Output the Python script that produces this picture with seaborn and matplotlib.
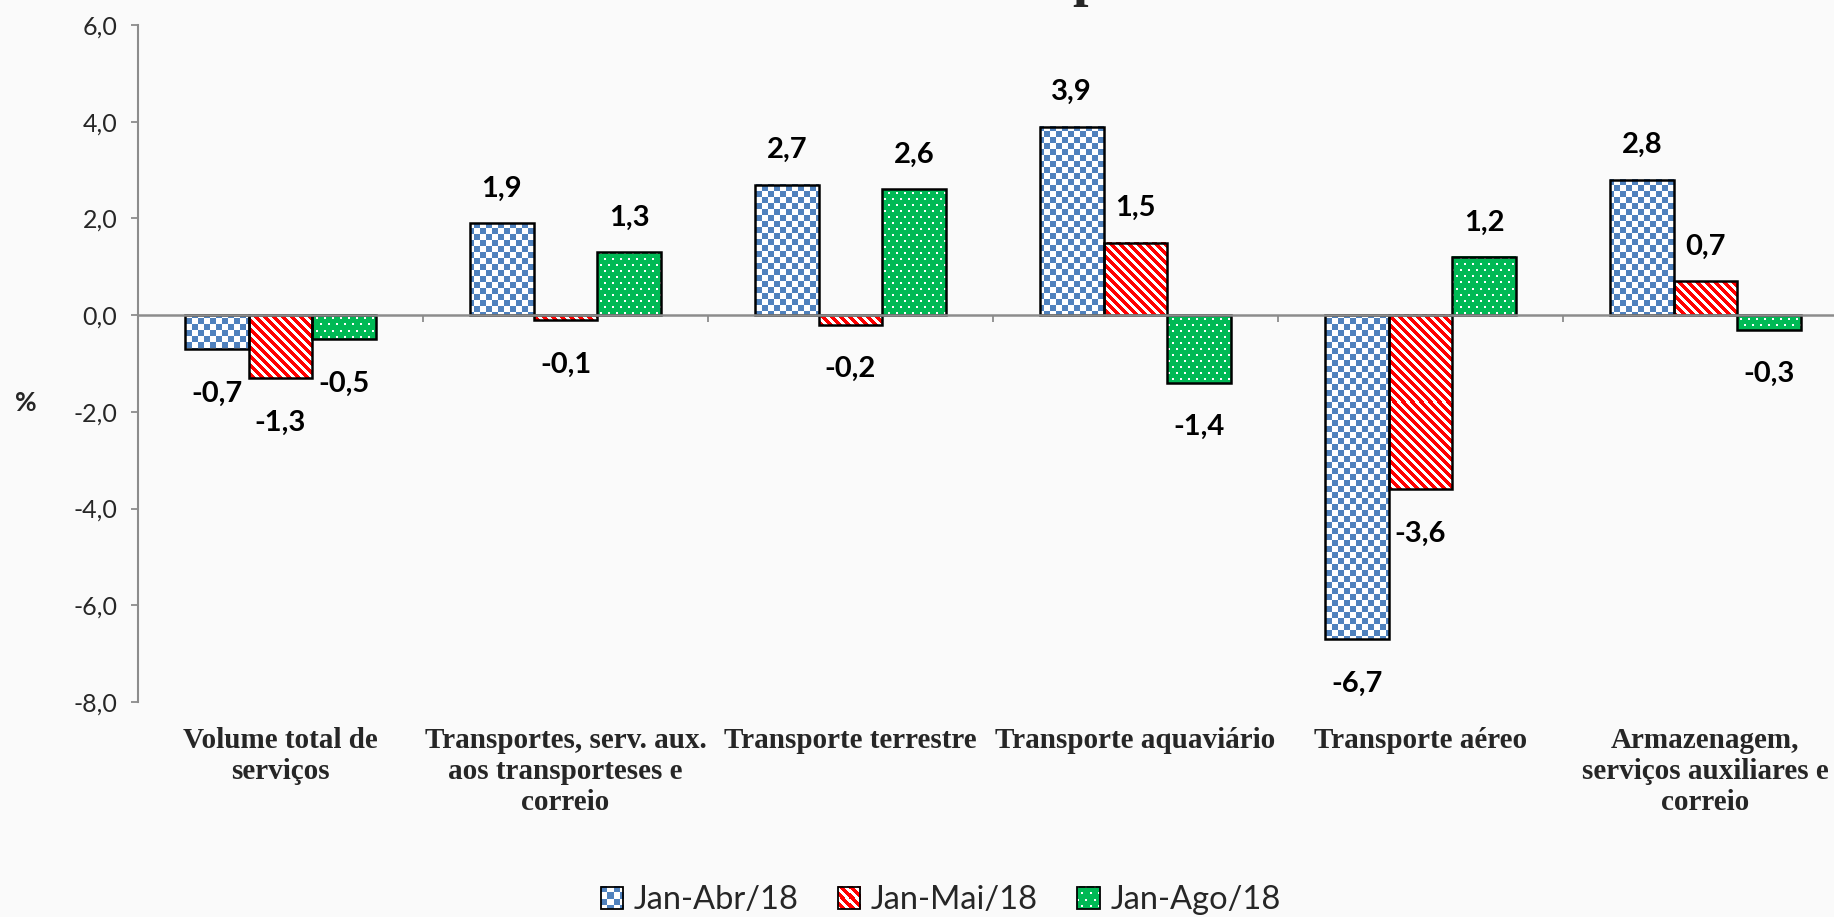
import matplotlib

matplotlib.use("Agg")
import matplotlib.pyplot as plt
import numpy as np
import pandas as pd
import seaborn as sns
from matplotlib.image import BboxImage
from matplotlib.legend_handler import HandlerBase
from matplotlib.patches import Rectangle
from matplotlib.transforms import Bbox, TransformedBbox

categorias = [
    "Volume total de\nserviços",
    "Transportes, serv. aux.\naos transporteses e\ncorreio",
    "Transporte terrestre",
    "Transporte aquaviário",
    "Transporte aéreo",
    "Armazenagem,\nserviços auxiliares e\ncorreio",
]
periodos = ["Jan-Abr/18", "Jan-Mai/18", "Jan-Ago/18"]
jan_abr = [-0.7, 1.9, 2.7, 3.9, -6.7, 2.8]
jan_mai = [-1.3, -0.1, -0.2, 1.5, -3.6, 0.7]
jan_ago = [-0.5, 1.3, 2.6, -1.4, 1.2, -0.3]
y_ticks = [-8, -6, -4, -2, 0, 2, 4, 6]

series = [jan_abr, jan_mai, jan_ago]
texturas = ["xadrez", "listras", "pontos"]

AZUL = np.array([79, 129, 189]) / 255
VERMELHO = np.array([255, 0, 0]) / 255
VERDE = np.array([0, 185, 85]) / 255
BRANCO = np.ones(3)
FUNDO = "#FAFAFA"
CINZA = "#8C8C8C"

W_PX, H_PX, DPI = 1834, 917, 100


def fmt(v: float) -> str:
    return f"{v:.1f}".replace(".", ",")


def textura(kind: str, h: int, w: int, x0: int = 0, y0: int = 0) -> np.ndarray:
    ii, jj = np.mgrid[0:h, 0:w]
    ii = ii + y0
    jj = jj + x0
    img = np.empty((h, w, 3))
    if kind == "xadrez":
        mask = ((ii // 6 + jj // 6) % 2) == 0
        img[:] = BRANCO
        img[mask] = AZUL
    elif kind == "listras":
        mask = ((jj - ii) % 9) < 4.5
        img[:] = BRANCO
        img[mask] = VERMELHO
    else:
        shift = ((ii // 6) % 2) * 4
        mask = ((ii % 6) < 2) & (((jj + shift) % 8) < 2)
        img[:] = VERDE
        img[mask] = BRANCO
    return img


class HandlerTextura(HandlerBase):
    def __init__(self, kind):
        super().__init__()
        self.kind = kind

    def create_artists(self, legend, orig_handle, xdescent, ydescent, width, height, fontsize, trans):
        bbox = TransformedBbox(Bbox.from_bounds(-xdescent, -ydescent, width, height), trans)
        img = BboxImage(bbox, interpolation="nearest")
        n = max(int(round(width * DPI / 72)), 1)
        img.set_data(textura(self.kind, n, n))
        borda = Rectangle((-xdescent, -ydescent), width, height, facecolor="none",
                          edgecolor="black", linewidth=1.3, transform=trans)
        return [img, borda]


df = pd.DataFrame({
    "categoria": categorias * 3,
    "periodo": np.repeat(periodos, len(categorias)),
    "valor": jan_abr + jan_mai + jan_ago,
})

sns.set_style("white")
plt.rcParams["font.family"] = ["Lato", "DejaVu Sans"]

fig = plt.figure(figsize=(W_PX / DPI, H_PX / DPI), dpi=DPI, facecolor=FUNDO)
ax = fig.add_axes([138 / W_PX, 1 - 702 / H_PX, (1848 - 138) / W_PX, (702 - 25) / H_PX])
ax.set_facecolor(FUNDO)

sns.barplot(data=df, x="categoria", y="valor", hue="periodo", hue_order=periodos,
            order=categorias, palette=["#4F81BD", "#FF0000", "#00B955"], width=0.67,
            edgecolor="black", linewidth=1.8, errorbar=None, legend=False, ax=ax)

ax.set_xlim(-0.5, 5.5)
ax.set_ylim(-8, 6)

# textures clipped to each bar, aligned to the pixel grid
for cont, kind in zip(ax.containers, texturas):
    for bar in cont:
        x, w = bar.get_x(), bar.get_width()
        y_lo = min(bar.get_y(), bar.get_y() + bar.get_height())
        y_hi = max(bar.get_y(), bar.get_y() + bar.get_height())
        (px0, py0), (px1, py1) = ax.transData.transform([(x, y_lo), (x + w, y_hi)])
        pw = max(int(round(px1 - px0)), 1)
        ph = max(int(round(py1 - py0)), 1)
        img = textura(kind, ph, pw, int(round(px0)), int(round(H_PX - py1)))
        ax.imshow(img, extent=(x, x + w, y_lo, y_hi), origin="upper",
                  interpolation="nearest", aspect="auto", zorder=1.5)
        bar.set_facecolor("none")
        bar.set_zorder(2)

ax.set_xlim(-0.5, 5.5)
ax.set_ylim(-8, 6)

# value labels
for cont, vals in zip(ax.containers, series):
    for bar, v in zip(cont, vals):
        cx = bar.get_x() + bar.get_width() / 2
        off = 25 if v >= 0 else -32
        ax.annotate(fmt(v), (cx, v), xytext=(0, off), textcoords="offset points",
                    ha="center", va="center", fontsize=21, fontweight="bold", color="black")

# axes styling
for s in ["top", "right"]:
    ax.spines[s].set_visible(False)
ax.spines["left"].set_color(CINZA)
ax.spines["left"].set_linewidth(1.5)
ax.spines["bottom"].set_position(("data", 0))
ax.spines["bottom"].set_color(CINZA)
ax.spines["bottom"].set_linewidth(1.8)
ax.spines["bottom"].set_zorder(3)

ax.set_yticks(y_ticks, labels=[fmt(t) for t in y_ticks])
ax.set_xticks(np.arange(0.5, 6.0, 1.0), labels=[])
ax.tick_params(axis="y", direction="out", length=5, width=1.3, color=CINZA,
               labelsize=18, pad=10, left=True)
ax.tick_params(axis="x", direction="out", length=5, width=1.3, color=CINZA, bottom=True)
ax.set_xlabel("")
ax.set_ylabel("")

for i, cat in enumerate(categorias):
    ax.annotate(cat, (i, -8), xytext=(0, -18), textcoords="offset points",
                ha="center", va="top", multialignment="center", linespacing=1.2,
                fontsize=21, fontweight="bold", family=["Liberation Serif", "DejaVu Serif"])

fig.text(26 / W_PX, 1 - 403 / H_PX, "%", ha="center", va="center", fontsize=19, fontweight="bold")
fig.text(1088 / W_PX, 1 + 5 / H_PX, "p", ha="center", va="baseline", fontsize=40,
         fontweight="bold", family=["Liberation Serif", "DejaVu Serif"])

proxies = [Rectangle((0, 0), 1, 1) for _ in periodos]
fig.legend(proxies, periodos, loc="center", bbox_to_anchor=(0.513, 0.018), ncol=3,
           frameon=False, fontsize=23.5, handlelength=0.68, handleheight=0.68,
           handletextpad=0.33, columnspacing=1.2,
           handler_map={p: HandlerTextura(k) for p, k in zip(proxies, texturas)})

fig.savefig("out.png", dpi=DPI, facecolor=FUNDO)
